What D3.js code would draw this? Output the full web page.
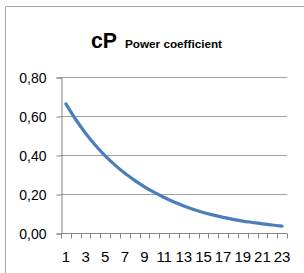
<!DOCTYPE html>
<html><head><meta charset="utf-8">
<script src="https://cdn.jsdelivr.net/npm/d3@7"></script>
<style>html,body{margin:0;padding:0;background:#fff;overflow:hidden}</style>
</head><body>
<svg id="chart" width="304" height="273"></svg>
<script>
const categories = d3.range(1, 24);
const cpValues = [0.662,0.582,0.512,0.450,0.395,0.348,0.306,0.270,0.237,0.208,0.182,0.159,0.139,0.121,0.105,0.092,0.080,0.070,0.061,0.054,0.047,0.041,0.035];
const yTicks = [0, 0.2, 0.4, 0.6, 0.8];
const xLabels = categories.filter(d => d % 2 === 1);
const titleMain = "cP";
const titleSub = "Power coefficient";

const svg = d3.select("#chart");
const font = "'Liberation Sans', Arial, sans-serif";

// outer frame
svg.append("path").attr("d", "M5.5,273 V6.5 H304").attr("fill","none").attr("stroke","#a6a6a6").attr("stroke-width",1);

const x = d3.scaleBand().domain(categories).range([61, 287]).padding(0);
const y = d3.scaleLinear().domain([0, 0.8]).range([233, 77]);

// gridlines
svg.append("g").selectAll("line").data(yTicks.filter(d => d > 0)).join("line")
  .attr("x1", 61).attr("x2", 287)
  .attr("y1", d => Math.round(y(d)) + 0.5).attr("y2", d => Math.round(y(d)) + 0.5)
  .attr("stroke", "#a0a0a0").attr("stroke-width", 1);

// y axis
const yAxis = d3.axisLeft(y).tickValues(yTicks).tickSize(5).tickPadding(10)
  .tickFormat(d => d3.format(".2f")(d).replace(".", ","));
const gy = svg.append("g").attr("transform", "translate(61.5,0.5)").call(yAxis);
gy.select(".domain").attr("stroke", "#868686");
gy.selectAll(".tick line").attr("stroke", "#868686");
gy.selectAll(".tick text").attr("font-family", font).attr("font-size", 14).attr("fill", "#000").attr("dy", "0.35em");

// x axis: ticks at category boundaries
const boundaries = categories.map(c => x(c)).concat([x.range()[1]]);
const gx = svg.append("g");
gx.append("line").attr("x1", 61).attr("x2", 287).attr("y1", 233.5).attr("y2", 233.5).attr("stroke", "#868686");
gx.selectAll("line.tk").data(boundaries).join("line").attr("class","tk")
  .attr("x1", d => Math.round(d) + 0.5).attr("x2", d => Math.round(d) + 0.5)
  .attr("y1", 233.5).attr("y2", 238.5).attr("stroke", "#868686");
gx.selectAll("text").data(xLabels).join("text")
  .attr("x", d => x(d) + x.bandwidth() / 2).attr("y", 262)
  .attr("text-anchor", "middle").attr("font-family", font).attr("font-size", 15).attr("fill", "#000")
  .text(d => d);

// line
const line = d3.line().x((d, i) => x(categories[i]) + x.bandwidth() / 2).y(d => y(d)).curve(d3.curveCatmullRom);
svg.append("path").datum(cpValues).attr("d", line).attr("fill", "none")
  .attr("stroke", "#4a7ebb").attr("stroke-width", 3.2).attr("stroke-linecap", "round");

// title
svg.append("text").attr("x", 91).attr("y", 48).attr("font-family", font).attr("font-weight", "bold")
  .attr("font-size", 22).attr("fill", "#000").attr("textLength", 26).attr("lengthAdjust", "spacingAndGlyphs").text(titleMain);
svg.append("text").attr("x", 125).attr("y", 48).attr("font-family", font).attr("font-weight", "bold")
  .attr("font-size", 11).attr("fill", "#000").attr("textLength", 97).attr("lengthAdjust", "spacingAndGlyphs").text(titleSub);
</script>
</body></html>
